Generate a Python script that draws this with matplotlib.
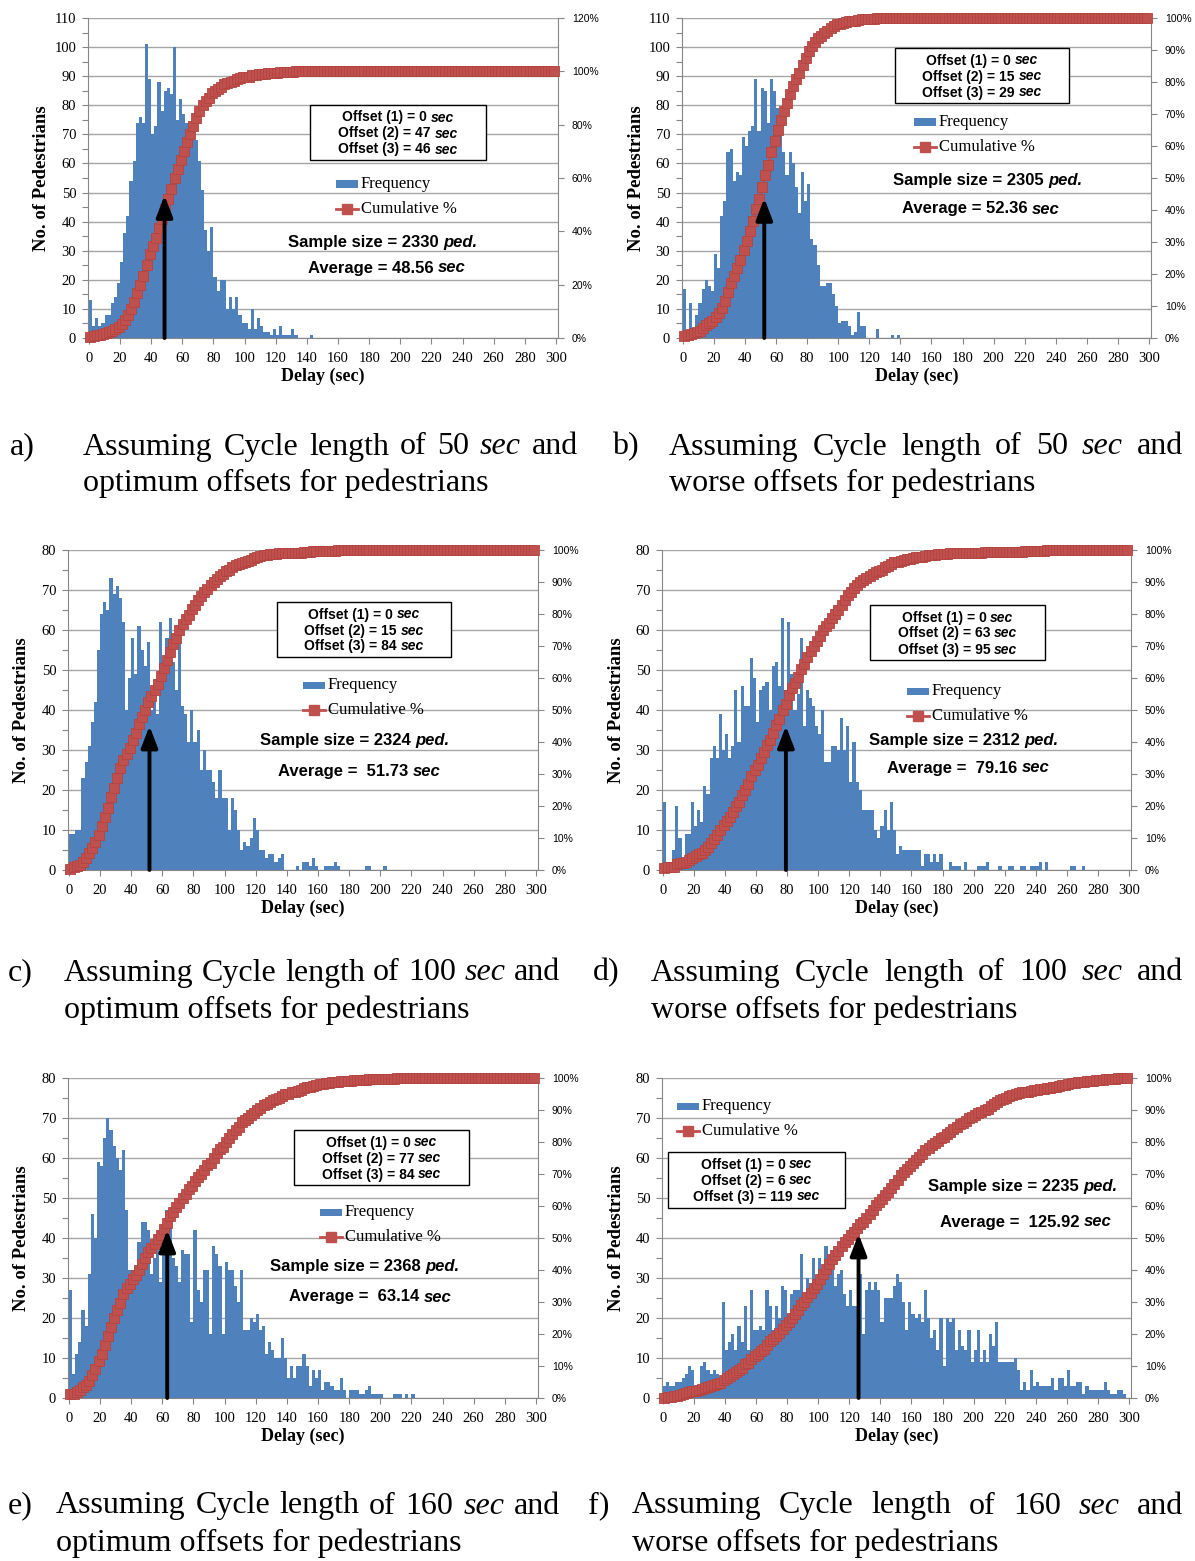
import numpy as np
import matplotlib.pyplot as plt
from matplotlib.patches import Rectangle
from matplotlib.lines import Line2D
from matplotlib.ticker import MultipleLocator, FuncFormatter

W, H = 1195, 1561
BLUE = '#4F81BD'
RED = '#C0504D'
GREY = '#868686'
SERIF = 'Liberation Serif'
SANS = 'Liberation Sans'
plt.rcParams['font.family'] = SERIF

# ---- data: pedestrians per 2-second delay bin (bins start at 0 sec) ----
bin_width = 2
n_bins = 150

freq_a = [13, 4, 7, 4, 5, 8, 8, 12, 14, 19,
          26, 36, 42, 54, 61, 74, 76, 74, 101, 89,
          70, 73, 88, 78, 85, 86, 84, 100, 75, 82,
          77, 74, 71, 71, 68, 61, 51, 37, 30, 38,
          21, 16, 20, 20, 10, 14, 10, 14, 8, 5,
          5, 3, 10, 3, 7, 4, 2, 2, 1, 3,
          1, 4, 1, 1, 1, 3, 1, 0, 0, 0,
          0, 1]
freq_b = [17, 2, 12, 2, 8, 12, 17, 20, 18, 16,
          29, 24, 42, 47, 64, 65, 54, 57, 56, 69,
          66, 71, 73, 89, 71, 86, 85, 74, 89, 85,
          79, 70, 64, 56, 64, 60, 52, 43, 57, 47,
          53, 34, 32, 25, 18, 18, 19, 19, 15, 11,
          5, 6, 6, 4, 1, 2, 9, 4, 4, 0,
          0, 0, 3, 0, 0, 0, 0, 1, 0, 1]
freq_c = [9, 9, 10, 10, 23, 27, 31, 37, 42, 55,
          64, 67, 65, 73, 69, 71, 68, 62, 40, 48,
          58, 49, 61, 55, 51, 57, 40, 46, 39, 62,
          52, 58, 63, 52, 45, 57, 41, 39, 32, 40,
          32, 35, 25, 30, 25, 25, 22, 18, 25, 18,
          18, 10, 18, 15, 10, 5, 7, 6, 8, 13,
          10, 5, 5, 3, 4, 4, 2, 3, 4, 0,
          0, 0, 0, 1, 0, 2, 2, 1, 3, 1,
          0, 0, 1, 1, 1, 2, 1, 0, 0, 0,
          0, 0, 0, 0, 0, 1, 1, 0, 0, 0,
          0, 1]
freq_d = [17, 2, 1, 5, 16, 8, 2, 9, 9, 17,
          11, 15, 12, 21, 19, 28, 31, 28, 39, 30,
          34, 28, 31, 45, 32, 46, 41, 41, 53, 48,
          37, 45, 46, 47, 40, 51, 52, 46, 63, 45,
          62, 49, 40, 44, 58, 36, 45, 43, 41, 36,
          34, 40, 27, 27, 31, 31, 30, 38, 30, 36,
          22, 32, 22, 20, 15, 15, 15, 15, 10, 8,
          11, 15, 10, 17, 10, 4, 6, 5, 5, 5,
          5, 5, 5, 1, 4, 4, 2, 4, 2, 4,
          0, 0, 2, 1, 1, 1, 0, 2, 0, 0,
          0, 1, 1, 1, 2, 0, 0, 0, 1, 0,
          0, 1, 1, 0, 0, 1, 1, 0, 1, 1,
          1, 2, 0, 2, 0, 0, 0, 0, 0, 0,
          0, 1, 1, 0, 0, 1]
freq_e = [27, 6, 11, 14, 22, 18, 31, 46, 40, 59,
          58, 65, 70, 67, 63, 60, 57, 62, 47, 32,
          32, 33, 39, 44, 44, 42, 31, 35, 37, 29,
          43, 47, 47, 35, 33, 29, 37, 36, 36, 19,
          42, 27, 24, 32, 32, 16, 38, 36, 33, 16,
          34, 32, 32, 28, 24, 32, 17, 17, 20, 19,
          21, 17, 18, 11, 14, 12, 10, 10, 15, 10,
          5, 8, 5, 8, 8, 11, 8, 3, 7, 5,
          7, 2, 4, 4, 3, 2, 2, 5, 2, 0,
          2, 2, 2, 1, 1, 2, 3, 1, 1, 1,
          1, 0, 0, 0, 1, 1, 1, 0, 1, 0,
          1]
freq_f = [3, 4, 3, 3, 4, 4, 5, 6, 8, 7,
          3, 3, 8, 9, 7, 6, 7, 6, 5, 24,
          12, 14, 16, 12, 18, 14, 23, 12, 27, 17,
          17, 18, 17, 27, 23, 17, 23, 20, 28, 27,
          21, 26, 27, 27, 36, 24, 30, 28, 35, 30,
          35, 32, 38, 35, 32, 28, 31, 32, 26, 23,
          27, 23, 23, 31, 16, 27, 29, 27, 29, 27,
          19, 25, 25, 25, 28, 31, 29, 24, 17, 24,
          21, 20, 21, 19, 27, 20, 15, 17, 12, 20,
          8, 20, 19, 20, 12, 17, 13, 12, 17, 9,
          12, 17, 9, 12, 9, 16, 13, 19, 9, 9,
          9, 9, 9, 10, 7, 2, 4, 2, 7, 3,
          4, 3, 3, 3, 3, 5, 2, 5, 5, 3,
          7, 3, 3, 4, 4, 1, 3, 2, 2, 2,
          2, 2, 4, 2, 1, 1, 2, 2, 1]
freqs = [freq_a, freq_b, freq_c, freq_d, freq_e, freq_f]

letters = ['a', 'b', 'c', 'd', 'e', 'f']
cycle_len = [50, 50, 100, 100, 160, 160]
offset_kind = ['optimum', 'worse', 'optimum', 'worse', 'optimum', 'worse']
offsets = [[0, 47, 46], [0, 15, 29], [0, 15, 84], [0, 63, 95], [0, 77, 84], [0, 6, 119]]
sample_size = [2330, 2305, 2324, 2312, 2368, 2235]
average = [48.56, 52.36, 51.73, 79.16, 63.14, 125.92]
arrow_top = [49, 48, 36, 36, 42, 41]          # arrow tip, in pedestrians
y_max = [110, 110, 80, 80, 80, 80]
cum_max = [1.2, 1.0, 1.0, 1.0, 1.0, 1.0]
cum_step = [0.2, 0.1, 0.1, 0.1, 0.1, 0.1]

# ---- layout (figure pixels) ----
axes_px = [(88, 18, 558, 338), (682, 18, 1151, 338), (68, 550, 538, 870),
           (662, 550, 1131, 870), (68, 1078, 538, 1398), (662, 1078, 1131, 1398)]
box_px = [(310, 105, 486, 160), (895, 48, 1069, 103), (277, 602, 451, 657),
          (870, 605, 1045, 660), (294, 1130, 469, 1185), (668, 1152, 845, 1208)]
legend_px = [(336, 184), (914, 122), (303, 685), (907, 691), (320, 1212), (677, 1106)]
sample_px = [(383, 243), (988, 180), (355, 741), (964, 741), (365, 1267), (1023, 1187)]
avg_px = [(387, 268), (981, 209), (359, 772), (968, 768), (370, 1297), (1026, 1222)]
caption_px = [(10, 83, 578, 447, 483), (612, 669, 1183, 447, 483),
              (8, 64, 560, 973, 1010), (593, 651, 1183, 973, 1010),
              (8, 56, 560, 1506, 1543), (588, 632, 1183, 1506, 1543)]

fig = plt.figure(figsize=(W / 100, H / 100), dpi=100)
renderer = fig.canvas.get_renderer()


def fx(x):
    return x / W


def fy(y):
    return 1 - y / H


def rich_line(x, y, parts, ha='center', width=None, size=9, family=SANS, weight='bold', z=6):
    # draws pieces of text side by side, some of them italic
    texts = [fig.text(0, fy(y), s, fontsize=size, family=family, weight=weight,
                      style=st, va='center', ha='left', zorder=z) for s, st in parts]
    widths = [t.get_window_extent(renderer).width for t in texts]
    gap = size * 100 / 72 * 0.26
    if width is not None and len(parts) > 1:
        gap = (width - sum(widths)) / (len(parts) - 1)
    total = sum(widths) + gap * (len(parts) - 1)
    x0 = x - total / 2 if ha == 'center' else x
    for t, w in zip(texts, widths):
        t.set_x(fx(x0))
        x0 += w + gap


for i in range(6):
    L, T, R, B = axes_px[i]
    ax = fig.add_axes([fx(L), fy(B), (R - L) / W, (B - T) / H])
    freq = np.zeros(n_bins)
    freq[:len(freqs[i])] = freqs[i]
    edges = np.arange(n_bins + 1) * bin_width
    ax.stairs(freq, edges, fill=True, color=BLUE, lw=0, zorder=2)
    ax.set_xlim(-0.6, 301.3)
    ax.set_ylim(0, y_max[i])
    ax.xaxis.set_major_locator(MultipleLocator(20))
    ax.yaxis.set_major_locator(MultipleLocator(10))
    ax.yaxis.set_minor_locator(MultipleLocator(5))
    ax.grid(axis='y', which='major', color='#A6A6A6', lw=1)
    ax.set_axisbelow(True)
    ax.tick_params(axis='y', which='both', direction='out', length=4, width=0.8,
                   color=GREY, labelsize=10.5, pad=4.5)
    ax.tick_params(axis='x', direction='out', length=4, width=0.8, color=GREY,
                   labelsize=10.5, pad=6)
    for s in ['left', 'bottom']:
        ax.spines[s].set_color(GREY)
    ax.spines['top'].set_visible(False)
    ax.spines['right'].set_visible(False)
    ax.set_ylabel('No. of Pedestrians', fontsize=13.5, fontweight='bold')
    ax.yaxis.label.set_va('center')
    ax.yaxis.set_label_coords(-0.098, 0.5)
    ax.set_xlabel('Delay (sec)', fontsize=13, fontweight='bold')
    ax.xaxis.label.set_va('center')
    ax.xaxis.set_label_coords(0.5, -0.12)

    ax2 = ax.twinx()
    cum = np.cumsum(freq) / freq.sum()
    ax2.plot(edges[:-1] + bin_width / 2, cum, color=RED, lw=2.5, marker='s', ms=6.5,
             mfc=RED, mec='#B4443F', mew=0.6, clip_on=False, zorder=3)
    ax2.set_ylim(0, cum_max[i])
    ax2.yaxis.set_major_locator(MultipleLocator(cum_step[i]))
    ax2.yaxis.set_major_formatter(FuncFormatter(lambda v, _: f'{v * 100:.0f}%'))
    ax2.tick_params(axis='y', direction='out', length=4, width=0.8, color=GREY,
                    labelsize=7.5, pad=6, labelfontfamily=SANS)
    ax2.spines['right'].set_color(GREY)
    for s in ['top', 'left', 'bottom']:
        ax2.spines[s].set_visible(False)

    ax2.annotate('', xy=(average[i], arrow_top[i]), xytext=(average[i], 0),
                 xycoords=ax.transData, textcoords=ax.transData,
                 arrowprops=dict(arrowstyle='-|>,head_width=0.5,head_length=1.3',
                                 color='black', lw=2.8, shrinkA=0, shrinkB=0,
                                 mutation_scale=10))

    # offsets box
    bl, bt, br, bb = box_px[i]
    fig.add_artist(Rectangle((fx(bl), fy(bb)), (br - bl) / W, (bb - bt) / H,
                             transform=fig.transFigure, facecolor='white',
                             edgecolor='black', lw=1, zorder=5))
    for k in range(3):
        rich_line((bl + br) / 2, bt + 12.5 + 16 * k,
                  [(f'Offset ({k + 1}) = {offsets[i][k]}', 'normal'), ('sec', 'italic')],
                  size=10)

    # legend
    lx, ly = legend_px[i]
    fig.add_artist(Rectangle((fx(lx), fy(ly + 3.5)), 22 / W, 7 / H,
                             transform=fig.transFigure, facecolor=BLUE, lw=0, zorder=5))
    fig.add_artist(Line2D([fx(lx), fx(lx + 22)], [fy(ly + 25)] * 2,
                          transform=fig.transFigure, color=RED, lw=2, zorder=5))
    fig.add_artist(Line2D([fx(lx + 11)], [fy(ly + 25)], transform=fig.transFigure,
                          marker='s', ms=6.5, color=RED, zorder=5))
    fig.text(fx(lx + 25), fy(ly), 'Frequency', fontsize=12, va='center', family=SERIF)
    fig.text(fx(lx + 25), fy(ly + 25), 'Cumulative %', fontsize=12, va='center', family=SERIF)

    sx, sy = sample_px[i]
    rich_line(sx, sy, [(f'Sample size = {sample_size[i]}', 'normal'), ('ped.', 'italic')], size=12)
    ax_, ay_ = avg_px[i]
    eq = 'Average = ' if i < 2 else 'Average =  '
    rich_line(ax_, ay_, [(f'{eq}{average[i]:.2f}', 'normal'), ('sec', 'italic')], size=12)

    # caption
    cl, cx0, cx1, cy1, cy2 = caption_px[i]
    fig.text(fx(cl), fy(cy1), f'{letters[i]})', fontsize=23, va='center', family=SERIF)
    words = [('Assuming', 'normal'), ('Cycle', 'normal'), ('length', 'normal'),
             ('of', 'normal'), (str(cycle_len[i]), 'normal'), ('sec', 'italic'),
             ('and', 'normal')]
    rich_line(cx0, cy1, words, ha='left', width=cx1 - cx0, size=23, family=SERIF,
              weight='normal')
    fig.text(fx(cx0), fy(cy2), f'{offset_kind[i]} offsets for pedestrians',
             fontsize=23, va='center', family=SERIF)

fig.savefig('out.png', dpi=100)
